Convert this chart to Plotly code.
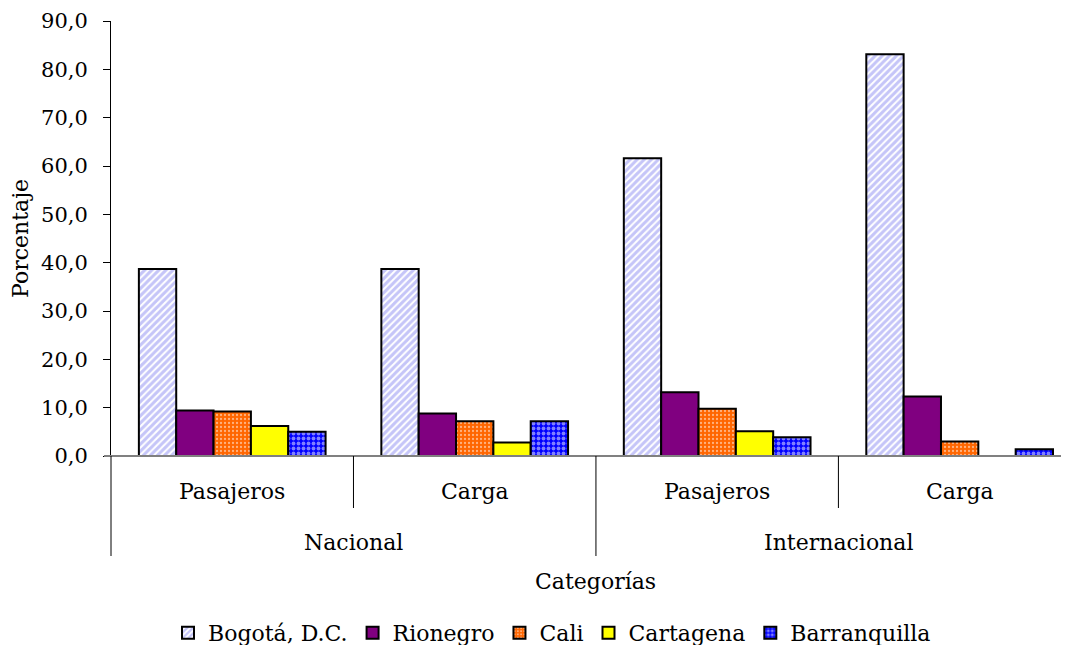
import plotly.graph_objects as go

# ---- data ----
subcategories = ["Pasajeros", "Carga", "Pasajeros", "Carga"]
groups = ["Nacional", "Internacional"]
series_names = ["Bogotá, D.C.", "Rionegro", "Cali", "Cartagena", "Barranquilla"]
bogota = [38.7, 38.7, 61.6, 83.1]
rionegro = [9.4, 8.8, 13.2, 12.3]
cali = [9.2, 7.2, 9.8, 3.0]
cartagena = [6.2, 2.8, 5.1, None]
barranquilla = [5.0, 7.2, 3.9, 1.4]
y_ticks = [0, 10, 20, 30, 40, 50, 60, 70, 80, 90]

values = [bogota, rionegro, cali, cartagena, barranquilla]
styles = [
    dict(color="white", pattern=dict(shape="/", fgcolor="#8C8CF2", bgcolor="white", size=5, solidity=0.6)),
    dict(color="#800080"),
    dict(color="#FF6600", pattern=dict(shape=".", fgcolor="white", bgcolor="#FF6600", size=4, solidity=0.25)),
    dict(color="#FFFF00"),
    dict(color="#0000FF", pattern=dict(shape=".", fgcolor="white", bgcolor="#0000FF", size=5, solidity=0.45)),
]

FONT = "DejaVu Serif"
FS = 22
xpos = list(range(len(subcategories)))
xr = [-0.5, 3.451]

fig = go.Figure()
for name, vals, st in zip(series_names, values, styles):
    fig.add_trace(go.Bar(
        x=xpos, y=vals, name=name,
        marker=dict(line=dict(color="black", width=2), **st),
    ))

def px(v):
    return (v - xr[0]) / (xr[1] - xr[0])

shapes = []
annotations = []
plot_h = 435.0
plot_w = 958.0
# x-axis line (gray)
shapes.append(dict(type="line", xref="paper", yref="paper", x0=-7 / plot_w, x1=1, y0=0, y1=0,
                   line=dict(color="#808080", width=2)))
# dividers
for i in range(len(subcategories) + 1):
    b = i - 0.5
    outer = (i % 2 == 0)
    ylen = 100 if outer else 52
    shapes.append(dict(type="line", xref="paper", yref="paper", x0=px(b), x1=px(b),
                       y0=0, y1=-ylen / plot_h, line=dict(color="black", width=1)))
for i, s in enumerate(subcategories):
    annotations.append(dict(x=px(i), y=-35 / plot_h, xref="paper", yref="paper", text=s,
                            showarrow=False, xanchor="center", yanchor="middle",
                            font=dict(family=FONT, size=FS, color="black")))
for j, g in enumerate(groups):
    annotations.append(dict(x=px(2 * j + 0.5), y=-86 / plot_h, xref="paper", yref="paper", text=g,
                            showarrow=False, xanchor="center", yanchor="middle",
                            font=dict(family=FONT, size=FS, color="black")))
annotations.append(dict(x=px(1.5), y=-125 / plot_h, xref="paper", yref="paper", text="Categorías",
                        showarrow=False, xanchor="center", yanchor="middle",
                        font=dict(family=FONT, size=FS, color="black")))

H = 637
# page body has an 8px default margin: shift everything up/left by 8px
fig.update_layout(
    width=1061, height=H,
    margin=dict(l=103, r=0, t=13, b=H - 13 - 435, autoexpand=False),
    paper_bgcolor="white", plot_bgcolor="white",
    barmode="group", bargap=0.23, bargroupgap=0,
    separators=",.",
    font=dict(family=FONT, size=FS, color="black"),
    showlegend=True,
    legend=dict(orientation="h", x=(552 - 111) / plot_w, xanchor="center",
                yref="container", y=1 - 625 / H, yanchor="middle",
                font=dict(family=FONT, size=FS, color="black"), itemwidth=30,
                traceorder="normal"),
    shapes=shapes, annotations=annotations,
)
fig.update_xaxes(range=xr, showticklabels=False, showline=False, showgrid=False,
                 zeroline=False, ticks="")
fig.update_yaxes(range=[0, 90], tickvals=y_ticks, tickformat=".1f", showgrid=False,
                 zeroline=False, showline=True, linecolor="black", linewidth=1,
                 ticks="outside", ticklen=7, tickcolor="black", ticklabelstandoff=11,
                 title=dict(text="Porcentaje", font=dict(family=FONT, size=FS), standoff=8),
                 tickfont=dict(family=FONT, size=21))

fig.write_html("out.html")
